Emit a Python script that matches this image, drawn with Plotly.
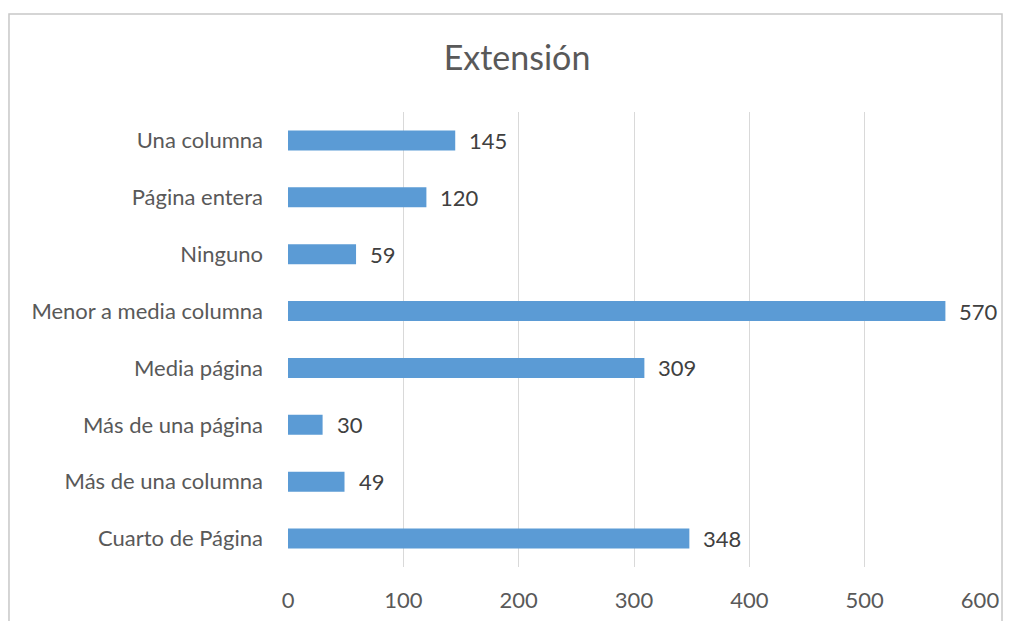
import plotly.graph_objects as go

categories = ["Cuarto de Página", "Más de una columna", "Más de una página", "Media página",
              "Menor a media columna", "Ninguno", "Página entera", "Una columna"]
values = [348, 49, 30, 309, 570, 59, 120, 145]
tick_vals = [0, 100, 200, 300, 400, 500, 600]

FONT = "Lato, Open Sans, sans-serif"
GRAY = "#595959"

fig = go.Figure(go.Bar(
    y=categories, x=values, orientation="h",
    marker=dict(color="#5B9BD5", line=dict(width=0)),
    width=0.35,
    hoverinfo="x+y",
))

for c, v in zip(categories, values):
    fig.add_annotation(x=v, y=c, xref="x", yref="y", text=str(v), showarrow=False,
                       xanchor="left", yanchor="middle", xshift=12,
                       font=dict(family=FONT, size=22, color="#404040"))

fig.update_layout(
    width=1003, height=613,
    margin=dict(l=280, r=31, t=104, b=54, autoexpand=False),
    paper_bgcolor="white", plot_bgcolor="white",
    showlegend=False,
    title=dict(text="Extensión", x=0.5075, xref="container", xanchor="center",
               y=1 - 50 / 613, yanchor="middle",
               font=dict(family=FONT, size=34, color=GRAY)),
    xaxis=dict(range=[0, 600], tickvals=tick_vals, showgrid=True, gridcolor="#D9D9D9",
               gridwidth=1, zeroline=False, showline=False, ticks="", automargin=False,
               tickfont=dict(family=FONT, size=22, color=GRAY), ticklabelstandoff=18),
    yaxis=dict(categoryorder="array", categoryarray=categories, showgrid=False,
               zeroline=False, showline=False, ticks="", automargin=False,
               tickfont=dict(family=FONT, size=22, color=GRAY), ticklabelstandoff=24),
    shapes=[dict(type="rect", xref="paper", yref="paper",
                 x0=-0.4032, x1=1.0318, y0=-0.3, y1=1.2154,
                 line=dict(color="#C8C8C8", width=1.5), fillcolor="rgba(0,0,0,0)",
                 layer="below")],
)

fig.write_html("out.html")
